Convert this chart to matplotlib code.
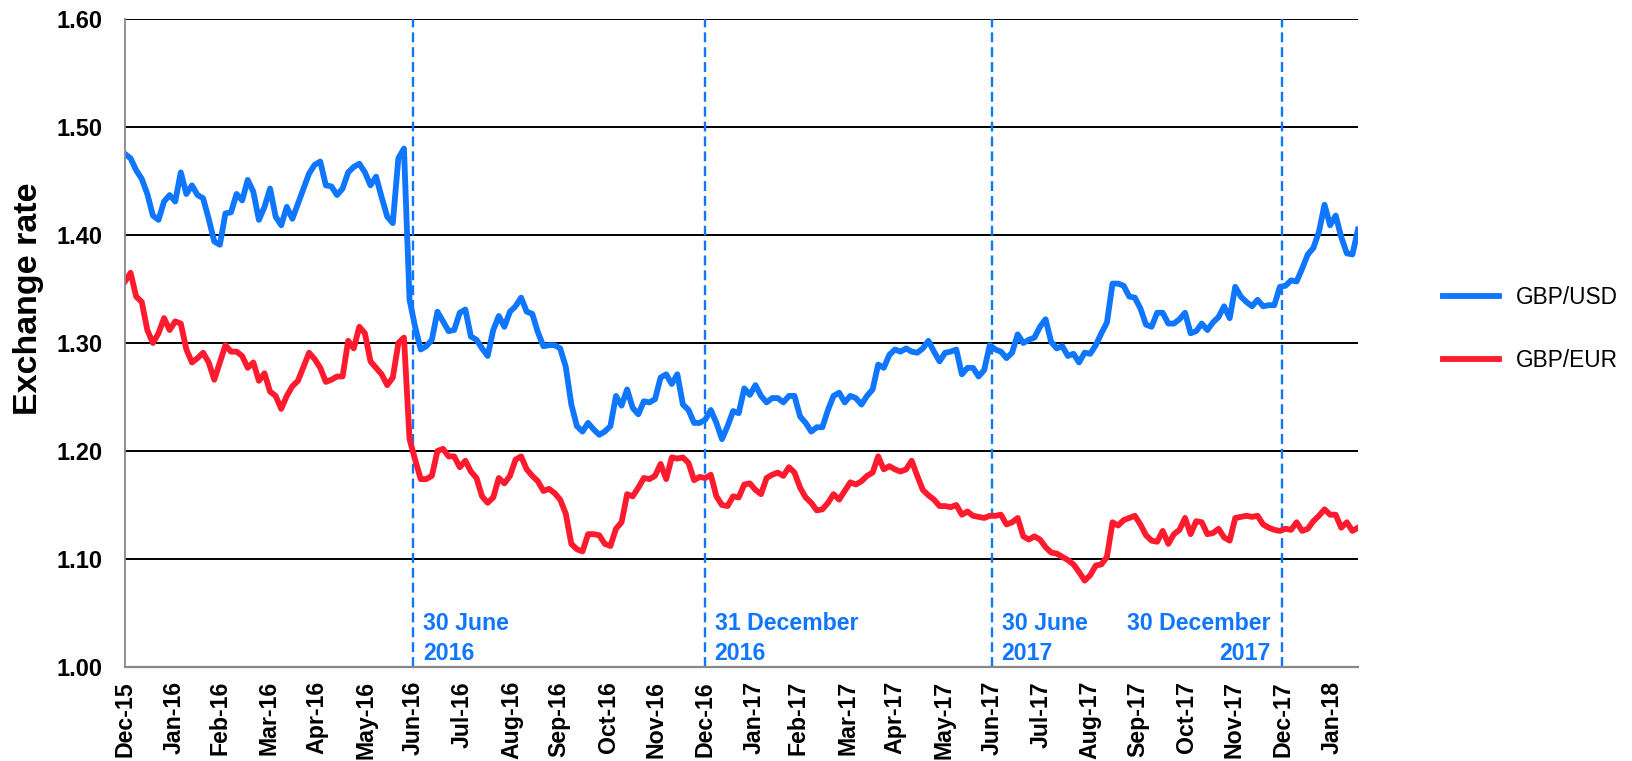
import pandas as pd
import matplotlib
matplotlib.use('Agg')
import matplotlib.pyplot as plt

plt.rcParams['font.family'] = ['Liberation Sans', 'DejaVu Sans']

# half-weekly readings starting 31 Dec 2015
start = '2015-12-31'

gbp_usd = [
    1.475, 1.471, 1.46, 1.452, 1.438, 1.418, 1.414, 1.431, 1.437, 1.431,
    1.458, 1.438, 1.446, 1.437, 1.434, 1.415, 1.394, 1.391, 1.42, 1.421,
    1.438, 1.432, 1.451, 1.44, 1.414, 1.426, 1.443, 1.417, 1.409, 1.426,
    1.415, 1.429, 1.443, 1.457, 1.465, 1.468, 1.446, 1.445,
    1.437, 1.443, 1.458, 1.463, 1.466, 1.458, 1.446, 1.454, 1.435, 1.417,
    1.411, 1.471, 1.48, 1.34, 1.315, 1.294, 1.297, 1.303, 1.329, 1.32,
    1.311, 1.312, 1.328, 1.331, 1.306, 1.303, 1.295, 1.288, 1.312, 1.325,
    1.315, 1.329, 1.334, 1.342, 1.329, 1.327, 1.31,
    1.297, 1.298, 1.298, 1.295, 1.278, 1.243, 1.223, 1.218, 1.226, 1.22,
    1.215, 1.218, 1.223, 1.251, 1.242, 1.257, 1.24, 1.234, 1.246, 1.245,
    1.248, 1.268, 1.271, 1.262, 1.271, 1.243, 1.238, 1.226, 1.226, 1.229,
    1.238, 1.226, 1.211, 1.223, 1.237, 1.235, 1.258,
    1.252, 1.261, 1.251, 1.245, 1.249, 1.249, 1.245, 1.251, 1.251, 1.232,
    1.226, 1.218, 1.222, 1.222, 1.238, 1.251, 1.254, 1.245, 1.251, 1.249,
    1.243, 1.251, 1.257, 1.28, 1.277, 1.289, 1.294, 1.292, 1.295, 1.292,
    1.291, 1.295, 1.302, 1.292, 1.283, 1.291, 1.292,
    1.294, 1.271, 1.277, 1.277, 1.269, 1.275, 1.298, 1.294, 1.292, 1.286,
    1.291, 1.308, 1.3, 1.303, 1.305, 1.315, 1.322, 1.301, 1.295, 1.297,
    1.288, 1.29, 1.282, 1.291, 1.29, 1.298, 1.309, 1.319, 1.355, 1.355,
    1.353, 1.343, 1.342, 1.332, 1.317, 1.315,
    1.328, 1.328, 1.318, 1.318, 1.322, 1.328, 1.309, 1.311, 1.318, 1.312,
    1.319, 1.324, 1.334, 1.323, 1.352, 1.343, 1.338, 1.334, 1.34, 1.334,
    1.335, 1.335, 1.352, 1.353, 1.358, 1.357, 1.369, 1.382, 1.388, 1.403,
    1.428, 1.409, 1.418, 1.398, 1.383, 1.382, 1.405,
]

gbp_eur = [
    1.357, 1.365, 1.343, 1.338, 1.312, 1.30, 1.309, 1.323, 1.312, 1.32,
    1.318, 1.294, 1.282, 1.286, 1.291, 1.282, 1.266, 1.282, 1.298, 1.292,
    1.292, 1.288, 1.277, 1.282, 1.265, 1.272, 1.255, 1.251, 1.239, 1.251,
    1.26, 1.265, 1.278, 1.291, 1.285, 1.277, 1.264, 1.266,
    1.269, 1.269, 1.302, 1.295, 1.315, 1.309, 1.283, 1.277, 1.271, 1.261,
    1.268, 1.3, 1.305, 1.211, 1.192, 1.174, 1.174, 1.177, 1.2, 1.202,
    1.195, 1.195, 1.185, 1.191, 1.181, 1.175, 1.158, 1.152, 1.157, 1.175,
    1.17, 1.177, 1.192, 1.195, 1.183, 1.177, 1.172,
    1.163, 1.165, 1.161, 1.155, 1.142, 1.114, 1.109, 1.107, 1.123, 1.123,
    1.122, 1.114, 1.112, 1.128, 1.134, 1.16, 1.158, 1.166, 1.175, 1.174,
    1.177, 1.188, 1.174, 1.194, 1.193, 1.194, 1.189, 1.173, 1.176, 1.175,
    1.178, 1.158, 1.15, 1.149, 1.158, 1.157, 1.169,
    1.17, 1.164, 1.16, 1.175, 1.178, 1.18, 1.177, 1.185, 1.18, 1.166,
    1.157, 1.152, 1.145, 1.146, 1.152, 1.16, 1.155, 1.163, 1.171, 1.169,
    1.172, 1.177, 1.18, 1.195, 1.183, 1.186, 1.183, 1.181, 1.183, 1.191,
    1.177, 1.164, 1.159, 1.155, 1.149, 1.149, 1.148,
    1.15, 1.141, 1.144, 1.14, 1.139, 1.138, 1.14, 1.14, 1.141, 1.132,
    1.134, 1.138, 1.121, 1.118, 1.121, 1.118, 1.111, 1.106, 1.105, 1.102,
    1.099, 1.095, 1.088, 1.08, 1.085, 1.094, 1.095, 1.102, 1.134, 1.131,
    1.136, 1.138, 1.14, 1.132, 1.122, 1.117,
    1.116, 1.126, 1.114, 1.123, 1.127, 1.138, 1.123, 1.135, 1.134, 1.123,
    1.124, 1.128, 1.12, 1.117, 1.138, 1.139, 1.14, 1.139, 1.14, 1.132,
    1.129, 1.127, 1.126, 1.128, 1.127, 1.134, 1.126, 1.128, 1.135, 1.14,
    1.146, 1.141, 1.141, 1.129, 1.134, 1.126, 1.129,
]

event_dates = ['2016-06-30', '2016-12-31', '2017-06-30', '2017-12-30']
event_labels = ['30 June\n2016', '31 December\n2016', '30 June\n2017', '30 December\n2017']

dates = pd.date_range(start, periods=len(gbp_usd), freq='84h30min')
month_ticks = pd.date_range('2015-12-31', '2018-01-31', freq='ME')

blue = '#0F76FF'
red = '#FF1B2D'

fig = plt.figure(figsize=(16.32, 7.61), dpi=100)
ax = fig.add_axes([125 / 1632, 94 / 761, 1233 / 1632, 648 / 761])

ax.plot(dates, gbp_usd, color=blue, lw=4.2, label='GBP/USD', solid_joinstyle='round')
ax.plot(dates, gbp_eur, color=red, lw=4.2, label='GBP/EUR', solid_joinstyle='round')

for i, (d, lab) in enumerate(zip(event_dates, event_labels)):
    d = pd.Timestamp(d)
    ax.axvline(d, color=blue, lw=1.7, linestyle=(0, (4.2, 2.1)), zorder=1)
    last = i == len(event_dates) - 1
    ax.annotate(lab, xy=(d, 1.0265), xytext=(-8 if last else 7, 0),
                textcoords='offset points', ha='right' if last else 'left',
                va='center', color=blue, fontsize=16.7, fontweight='bold',
                linespacing=1.38)

ax.set_ylim(1.0, 1.6)
ax.set_yticks([1.0, 1.1, 1.2, 1.3, 1.4, 1.5, 1.6])
ax.set_yticklabels(['%.2f' % v for v in ax.get_yticks()], fontsize=17, fontweight='bold')
ax.set_xlim(dates[0], dates[-1])
ax.set_xticks(month_ticks)
ax.set_xticklabels([d.strftime('%b-%y') for d in month_ticks], rotation=90,
                   fontsize=16.7, fontweight='bold')
ax.tick_params(axis='y', length=0, pad=16)
ax.tick_params(axis='x', length=0, pad=10)

ax.grid(axis='y', color='black', lw=1.4)
ax.set_axisbelow(True)
for s in ['top', 'right']:
    ax.spines[s].set_visible(False)
ax.spines['left'].set_color('#888888')
ax.spines['left'].set_linewidth(1.3)
ax.spines['bottom'].set_color('#888888')
ax.spines['bottom'].set_linewidth(1.6)

fig.text(29 / 1632, 1 - 299 / 761, 'Exchange rate', rotation=90, ha='center',
         va='center', fontsize=24.5, fontweight='bold')

fig.legend(loc='center left', bbox_to_anchor=(1434 / 1632, 1 - 329 / 761),
           frameon=False, fontsize=16.3, handlelength=2.47, handletextpad=0.75,
           labelspacing=1.8, borderaxespad=0)

fig.savefig('out.png', dpi=100, facecolor='white')
